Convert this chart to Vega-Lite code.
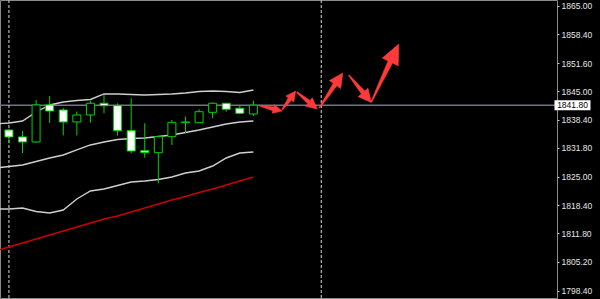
{
  "$schema": "https://vega.github.io/schema/vega-lite/v6.json",
  "width": 557,
  "height": 298,
  "autosize": {"type": "none"},
  "padding": {"left": 0, "top": 0, "right": 43, "bottom": 1},
  "background": "#000000",
  "config": {
    "view": {"stroke": "#8a8a8a", "strokeWidth": 1, "fill": "#000000"},
    "axis": {"grid": false, "labelOverlap": false, "domain": false, "tickSize": 2, "tickColor": "#c8c8c8", "labelPadding": 2, "labelFont": "Liberation Sans", "labelFontSize": 8.5, "labelColor": "#e6e6e6", "labelBound": false, "labelFlush": false}
  },
  "datasets": {
    "candles": [
      {"i": 0, "open": 1835.99, "high": 1836.30, "low": 1832.95, "close": 1834.36},
      {"i": 1, "open": 1834.36, "high": 1835.76, "low": 1830.61, "close": 1833.19},
      {"i": 2, "open": 1833.19, "high": 1843.01, "low": 1832.95, "close": 1841.84},
      {"i": 3, "open": 1841.84, "high": 1843.95, "low": 1837.63, "close": 1840.44},
      {"i": 4, "open": 1840.67, "high": 1841.14, "low": 1834.71, "close": 1837.87},
      {"i": 5, "open": 1837.87, "high": 1840.32, "low": 1834.71, "close": 1839.50},
      {"i": 6, "open": 1839.50, "high": 1842.85, "low": 1837.70, "close": 1842.24},
      {"i": 7, "open": 1842.24, "high": 1844.18, "low": 1839.90, "close": 1841.68},
      {"i": 8, "open": 1841.68, "high": 1842.24, "low": 1834.66, "close": 1835.83},
      {"i": 9, "open": 1835.83, "high": 1843.41, "low": 1830.54, "close": 1831.08},
      {"i": 10, "open": 1831.15, "high": 1837.56, "low": 1829.51, "close": 1830.73},
      {"i": 11, "open": 1830.68, "high": 1834.60, "low": 1823.53, "close": 1834.43},
      {"i": 12, "open": 1834.43, "high": 1838.33, "low": 1832.49, "close": 1837.79},
      {"i": 13, "open": 1837.70, "high": 1839.11, "low": 1835.22, "close": 1837.87},
      {"i": 14, "open": 1837.70, "high": 1840.84, "low": 1837.70, "close": 1840.27},
      {"i": 15, "open": 1840.13, "high": 1842.47, "low": 1838.73, "close": 1842.24},
      {"i": 16, "open": 1842.24, "high": 1842.30, "low": 1840.27, "close": 1840.84},
      {"i": 17, "open": 1841.07, "high": 1841.68, "low": 1839.67, "close": 1839.90},
      {"i": 18, "open": 1839.74, "high": 1842.85, "low": 1839.27, "close": 1841.80}
    ],
    "bands": [
      {"i": -1, "upper": 1837.40, "mid": 1827.11, "lower": 1817.52, "ma": 1807.69},
      {"i": 0, "upper": 1837.63, "mid": 1827.46, "lower": 1817.52, "ma": 1808.63},
      {"i": 1, "upper": 1838.10, "mid": 1827.81, "lower": 1817.75, "ma": 1809.56},
      {"i": 2, "upper": 1840.20, "mid": 1828.63, "lower": 1816.93, "ma": 1810.50},
      {"i": 3, "upper": 1841.84, "mid": 1829.44, "lower": 1816.58, "ma": 1811.43},
      {"i": 4, "upper": 1842.54, "mid": 1830.15, "lower": 1817.28, "ma": 1812.37},
      {"i": 5, "upper": 1842.89, "mid": 1831.32, "lower": 1819.85, "ma": 1813.30},
      {"i": 6, "upper": 1843.13, "mid": 1832.49, "lower": 1821.73, "ma": 1814.24},
      {"i": 7, "upper": 1844.42, "mid": 1833.19, "lower": 1822.19, "ma": 1815.18},
      {"i": 8, "upper": 1844.42, "mid": 1833.77, "lower": 1823.01, "ma": 1815.88},
      {"i": 9, "upper": 1844.30, "mid": 1834.01, "lower": 1823.83, "ma": 1816.81},
      {"i": 10, "upper": 1844.18, "mid": 1834.12, "lower": 1824.06, "ma": 1817.75},
      {"i": 11, "upper": 1844.30, "mid": 1834.47, "lower": 1824.42, "ma": 1818.68},
      {"i": 12, "upper": 1844.42, "mid": 1834.82, "lower": 1825.00, "ma": 1819.62},
      {"i": 13, "upper": 1844.65, "mid": 1835.41, "lower": 1825.94, "ma": 1820.44},
      {"i": 14, "upper": 1845.00, "mid": 1835.99, "lower": 1826.40, "ma": 1821.37},
      {"i": 15, "upper": 1845.12, "mid": 1836.70, "lower": 1827.57, "ma": 1822.19},
      {"i": 16, "upper": 1845.00, "mid": 1837.40, "lower": 1829.44, "ma": 1823.13},
      {"i": 17, "upper": 1844.77, "mid": 1837.87, "lower": 1830.61, "ma": 1824.06},
      {"i": 18, "upper": 1845.35, "mid": 1838.10, "lower": 1830.85, "ma": 1825.00}
    ],
    "arrows": [
      {"arrow": 1, "k": 1, "i": 18.430, "price": 1841.610},
      {"arrow": 1, "k": 2, "i": 19.435, "price": 1840.471},
      {"arrow": 1, "k": 3, "i": 19.393, "price": 1839.903},
      {"arrow": 1, "k": 4, "i": 20.101, "price": 1840.439},
      {"arrow": 1, "k": 5, "i": 19.544, "price": 1841.952},
      {"arrow": 1, "k": 6, "i": 19.503, "price": 1841.384},
      {"arrow": 1, "k": 7, "i": 18.447, "price": 1841.840},
      {"arrow": 2, "k": 1, "i": 20.130, "price": 1840.602},
      {"arrow": 2, "k": 2, "i": 20.801, "price": 1842.955},
      {"arrow": 2, "k": 3, "i": 20.976, "price": 1842.539},
      {"arrow": 2, "k": 4, "i": 21.114, "price": 1845.117},
      {"arrow": 2, "k": 5, "i": 20.394, "price": 1843.929},
      {"arrow": 2, "k": 6, "i": 20.568, "price": 1843.512},
      {"arrow": 2, "k": 7, "i": 20.072, "price": 1840.743},
      {"arrow": 3, "k": 1, "i": 21.164, "price": 1844.792},
      {"arrow": 3, "k": 2, "i": 21.995, "price": 1842.163},
      {"arrow": 3, "k": 3, "i": 21.836, "price": 1841.526},
      {"arrow": 3, "k": 4, "i": 22.704, "price": 1840.906},
      {"arrow": 3, "k": 5, "i": 22.336, "price": 1843.524},
      {"arrow": 3, "k": 6, "i": 22.177, "price": 1842.888},
      {"arrow": 3, "k": 7, "i": 21.208, "price": 1844.974},
      {"arrow": 4, "k": 1, "i": 22.879, "price": 1841.075},
      {"arrow": 4, "k": 2, "i": 24.143, "price": 1846.336},
      {"arrow": 4, "k": 3, "i": 24.429, "price": 1845.699},
      {"arrow": 4, "k": 4, "i": 24.584, "price": 1849.327},
      {"arrow": 4, "k": 5, "i": 23.594, "price": 1847.552},
      {"arrow": 4, "k": 6, "i": 23.881, "price": 1846.916},
      {"arrow": 4, "k": 7, "i": 22.819, "price": 1841.206},
      {"arrow": 5, "k": 1, "i": 24.991, "price": 1848.785},
      {"arrow": 5, "k": 2, "i": 25.956, "price": 1844.429},
      {"arrow": 5, "k": 3, "i": 25.717, "price": 1843.784},
      {"arrow": 5, "k": 4, "i": 26.681, "price": 1842.427},
      {"arrow": 5, "k": 5, "i": 26.439, "price": 1845.735},
      {"arrow": 5, "k": 6, "i": 26.200, "price": 1845.089},
      {"arrow": 5, "k": 7, "i": 25.046, "price": 1848.934},
      {"arrow": 6, "k": 1, "i": 26.714, "price": 1842.492},
      {"arrow": 6, "k": 2, "i": 28.240, "price": 1851.643},
      {"arrow": 6, "k": 3, "i": 28.663, "price": 1850.984},
      {"arrow": 6, "k": 4, "i": 28.706, "price": 1856.111},
      {"arrow": 6, "k": 5, "i": 27.492, "price": 1852.813},
      {"arrow": 6, "k": 6, "i": 27.915, "price": 1852.153},
      {"arrow": 6, "k": 7, "i": 26.649, "price": 1842.595}
    ]
  },
  "layer": [
    {
      "data": {"values": [{"price": 1841.8}]},
      "mark": {"type": "rule", "color": "#6e7780", "strokeWidth": 1.5},
      "encoding": {
        "y": {
          "field": "price", "type": "quantitative", "title": null,
          "scale": {"domain": [1796.69, 1866.4], "nice": false, "zero": false},
          "axis": {"orient": "right", "values": [1798.4, 1805.2, 1811.8, 1818.4, 1825, 1831.8, 1838.4, 1845, 1851.6, 1858.4, 1865], "format": ".2f", "labelOverlap": false, "title": null}
        }
      }
    },
    {
      "data": {"values": [{"i": 0}, {"i": 23}]},
      "mark": {"type": "rule", "color": "#b4b4b4", "strokeDash": [3, 2], "strokeWidth": 1.2},
      "encoding": {
        "x": {"field": "i", "type": "quantitative", "axis": null, "title": null,
              "scale": {"domain": [-0.289, 39.986], "nice": false, "zero": false}}
      }
    },
    {
      "data": {"name": "bands"},
      "mark": {"type": "line", "color": "#cfcfcf", "strokeWidth": 1.4, "clip": true},
      "encoding": {
        "x": {"field": "i", "type": "quantitative", "axis": null},
        "y": {"field": "upper", "type": "quantitative", "title": null,
              "axis": {"orient": "right", "values": [1798.4, 1805.2, 1811.8, 1818.4, 1825, 1831.8, 1838.4, 1845, 1851.6, 1858.4, 1865], "format": ".2f", "labelOverlap": false, "title": null}}
      }
    },
    {
      "data": {"name": "bands"},
      "mark": {"type": "line", "color": "#cfcfcf", "strokeWidth": 1.4, "clip": true},
      "encoding": {
        "x": {"field": "i", "type": "quantitative", "axis": null},
        "y": {"field": "mid", "type": "quantitative", "title": null,
              "axis": {"orient": "right", "values": [1798.4, 1805.2, 1811.8, 1818.4, 1825, 1831.8, 1838.4, 1845, 1851.6, 1858.4, 1865], "format": ".2f", "labelOverlap": false, "title": null}}
      }
    },
    {
      "data": {"name": "bands"},
      "mark": {"type": "line", "color": "#cfcfcf", "strokeWidth": 1.4, "clip": true},
      "encoding": {
        "x": {"field": "i", "type": "quantitative", "axis": null},
        "y": {"field": "lower", "type": "quantitative", "title": null,
              "axis": {"orient": "right", "values": [1798.4, 1805.2, 1811.8, 1818.4, 1825, 1831.8, 1838.4, 1845, 1851.6, 1858.4, 1865], "format": ".2f", "labelOverlap": false, "title": null}}
      }
    },
    {
      "data": {"name": "bands"},
      "mark": {"type": "line", "color": "#cc0000", "strokeWidth": 1.4, "clip": true},
      "encoding": {
        "x": {"field": "i", "type": "quantitative", "axis": null},
        "y": {"field": "ma", "type": "quantitative", "title": null,
              "axis": {"orient": "right", "values": [1798.4, 1805.2, 1811.8, 1818.4, 1825, 1831.8, 1838.4, 1845, 1851.6, 1858.4, 1865], "format": ".2f", "labelOverlap": false, "title": null}}
      }
    },
    {
      "data": {"name": "candles"},
      "mark": {"type": "rule", "color": "#00d400", "strokeWidth": 1},
      "encoding": {
        "x": {"field": "i", "type": "quantitative", "axis": null},
        "y": {"field": "low", "type": "quantitative", "title": null,
              "axis": {"orient": "right", "values": [1798.4, 1805.2, 1811.8, 1818.4, 1825, 1831.8, 1838.4, 1845, 1851.6, 1858.4, 1865], "format": ".2f", "labelOverlap": false, "title": null}},
        "y2": {"field": "high"}
      }
    },
    {
      "data": {"name": "candles"},
      "mark": {"type": "bar", "size": 8, "stroke": "#00d400", "strokeWidth": 1},
      "encoding": {
        "x": {"field": "i", "type": "quantitative", "axis": null},
        "y": {"field": "open", "type": "quantitative", "title": null,
              "axis": {"orient": "right", "values": [1798.4, 1805.2, 1811.8, 1818.4, 1825, 1831.8, 1838.4, 1845, 1851.6, 1858.4, 1865], "format": ".2f", "labelOverlap": false, "title": null}},
        "y2": {"field": "close"},
        "fill": {
          "condition": {"test": "datum.close < datum.open", "value": "#ffffff"},
          "value": "#000000"
        }
      }
    },
    {
      "data": {"name": "arrows"},
      "mark": {"type": "line", "filled": true, "color": "#ff3a3a", "stroke": "#ff3a3a", "strokeWidth": 0.6},
      "encoding": {
        "x": {"field": "i", "type": "quantitative", "axis": null},
        "y": {"field": "price", "type": "quantitative", "title": null,
              "axis": {"orient": "right", "values": [1798.4, 1805.2, 1811.8, 1818.4, 1825, 1831.8, 1838.4, 1845, 1851.6, 1858.4, 1865], "format": ".2f", "labelOverlap": false, "title": null}},
        "detail": {"field": "arrow", "type": "nominal"},
        "order": {"field": "k", "type": "quantitative"}
      }
    },
    {
      "data": {"values": [{"i": 40, "price": 1841.8, "label": "1841.80"}]},
      "mark": {"type": "point", "shape": "M-3.6,-1H3.6V1H-3.6Z", "size": 100, "filled": true, "color": "#ffffff", "opacity": 1, "xOffset": 20.3, "clip": false},
      "encoding": {
        "x": {"field": "i", "type": "quantitative", "axis": null},
        "y": {"field": "price", "type": "quantitative", "title": null,
              "axis": {"orient": "right", "values": [1798.4, 1805.2, 1811.8, 1818.4, 1825, 1831.8, 1838.4, 1845, 1851.6, 1858.4, 1865], "format": ".2f", "labelOverlap": false, "title": null}}
      }
    },
    {
      "data": {"values": [{"i": 40, "price": 1841.8, "label": "1841.80"}]},
      "mark": {"type": "text", "dx": 20.3, "align": "center", "baseline": "middle", "color": "#000000", "font": "Liberation Sans", "fontSize": 8.5, "clip": false},
      "encoding": {
        "x": {"field": "i", "type": "quantitative", "axis": null},
        "y": {"field": "price", "type": "quantitative", "title": null,
              "axis": {"orient": "right", "values": [1798.4, 1805.2, 1811.8, 1818.4, 1825, 1831.8, 1838.4, 1845, 1851.6, 1858.4, 1865], "format": ".2f", "labelOverlap": false, "title": null}},
        "text": {"field": "label"}
      }
    }
  ]
}
